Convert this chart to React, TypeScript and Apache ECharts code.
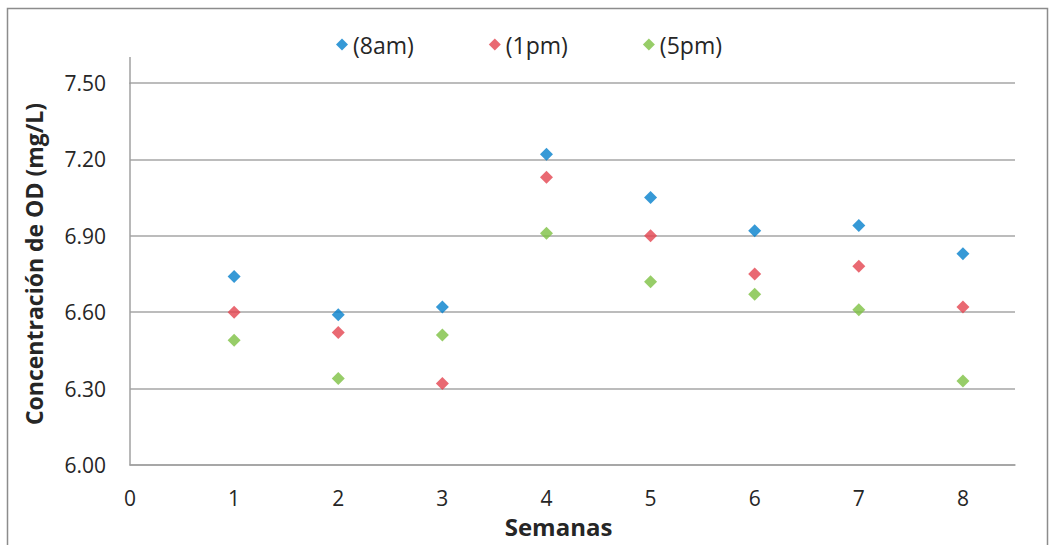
import React, { useEffect, useRef } from "react";
import * as echarts from "echarts";

const weeks = [1, 2, 3, 4, 5, 6, 7, 8];
const od8am = [6.74, 6.59, 6.62, 7.22, 7.05, 6.92, 6.94, 6.83];
const od1pm = [6.6, 6.52, 6.32, 7.13, 6.9, 6.75, 6.78, 6.62];
const od5pm = [6.49, 6.34, 6.51, 6.91, 6.72, 6.67, 6.61, 6.33];
const seriesNames = ["(8am)", "(1pm)", "(5pm)"];
const xTickLabels = ["0", "1", "2", "3", "4", "5", "6", "7", "8"];
const yTickLabels = ["6.00", "6.30", "6.60", "6.90", "7.20", "7.50"];

const colors = ["#0480CC", "#E3434F", "#7DC142"];
const FONT = "Open Sans";

export default function App() {
  const ref = useRef<HTMLDivElement>(null);
  useEffect(() => {
    if (!ref.current) return;
    const chart = echarts.init(ref.current, null, { renderer: "svg" });
    const mk = (vals: number[]) => weeks.map((w, i) => [w, vals[i]]);
    const all = [od8am, od1pm, od5pm];
    chart.setOption({
      animation: false,
      backgroundColor: "#fff",
      textStyle: { fontFamily: FONT },
      grid: { left: 130, top: 83, right: 35, bottom: 80, containLabel: false },
      legend: {
        data: seriesNames,
        left: 331,
        top: 28,
        icon: "diamond",
        itemWidth: 12,
        itemHeight: 12,
        itemGap: 75,
        textStyle: { fontFamily: FONT, fontSize: 23, color: "#262626" },
      },
      xAxis: {
        type: "value",
        min: 0,
        max: 8.5,
        interval: 1,
        name: "Semanas",
        nameLocation: "middle",
        nameGap: 49,
        nameTextStyle: {
          fontFamily: FONT,
          fontSize: 24,
          fontWeight: "bold",
          color: "#262626",
          padding: [0, 28, 0, 0],
        },
        axisLine: { show: true, lineStyle: { color: "#a0a0a0", width: 1.5 } },
        axisTick: { show: false },
        splitLine: { show: false },
        axisLabel: {
          margin: 22,
          fontFamily: FONT,
          fontSize: 21,
          color: "#262626",
          formatter: (v: number) => (xTickLabels.includes(String(v)) ? String(v) : ""),
        },
      },
      yAxis: {
        type: "value",
        min: 6,
        max: 7.5,
        interval: 0.3,
        name: "Concentración de OD (mg/L)",
        nameLocation: "middle",
        nameGap: 85,
        nameTextStyle: {
          fontFamily: FONT,
          fontSize: 23,
          fontWeight: "bold",
          color: "#262626",
          padding: [0, 0, 0, 20],
        },
        axisLine: { show: true, lineStyle: { color: "#a0a0a0", width: 1.5 } },
        axisTick: { show: false },
        splitLine: { show: true, lineStyle: { color: "#a6a6a6", width: 1.5 } },
        axisLabel: {
          margin: 24,
          fontFamily: FONT,
          fontSize: 21,
          color: "#262626",
          formatter: (v: number) => {
            const s = v.toFixed(2);
            return yTickLabels.includes(s) ? s : "";
          },
        },
      },
      graphic: [
        {
          type: "rect",
          shape: { x: 7.5, y: 8.5, width: 1040, height: 560 },
          style: { fill: "none", stroke: "#8c8c8c", lineWidth: 1.5 },
          silent: true,
        },
        {
          type: "line",
          shape: { x1: 130, y1: 57, x2: 130, y2: 84 },
          style: { stroke: "#a0a0a0", lineWidth: 1.5 },
          silent: true,
        },
      ],
      series: seriesNames.map((name, i) => ({
        name,
        type: "scatter",
        symbol: "diamond",
        symbolSize: [13, 13],
        itemStyle: { color: colors[i] },
        data: mk(all[i]),
      })),
    });
    return () => chart.dispose();
  }, []);
  return (
    <div
      ref={ref}
      style={{ position: "absolute", left: 0, top: 0, width: 1050, height: 545 }}
    />
  );
}
